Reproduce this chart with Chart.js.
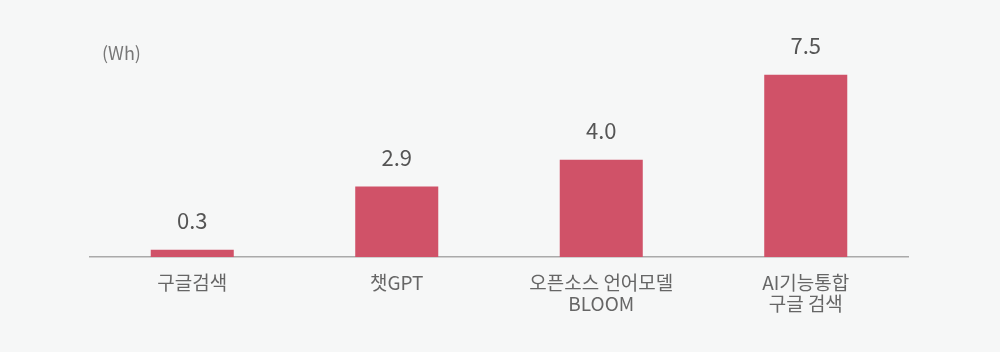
<!DOCTYPE html>
<html>
<head>
<meta charset="utf-8">
<script src="https://cdn.jsdelivr.net/npm/chart.js@4"></script>
<style>
  html, body { margin: 0; padding: 0; background: #f6f7f7; }
  #wrap { width: 1000px; height: 352px; position: relative; }
</style>
</head>
<body>
<div id="wrap"><canvas id="energyChart"></canvas></div>
<script>
const categories = [['구글검색'], ['챗GPT'], ['오픈소스 언어모델', 'BLOOM'], ['AI기능통합', '구글 검색']];
const values = [0.3, 2.9, 4.0, 7.5];
const unitLabel = '(Wh)';

const FONT = "'Noto Sans CJK KR', 'Noto Sans', sans-serif";

// value labels above bars + unit text
const labelPlugin = {
  id: 'labels',
  afterDatasetsDraw(chart) {
    const ctx = chart.ctx;
    const meta = chart.getDatasetMeta(0);
    ctx.save();
    ctx.fillStyle = '#555';
    ctx.font = '22px ' + FONT;
    ctx.textAlign = 'center';
    ctx.textBaseline = 'alphabetic';
    meta.data.forEach((bar, i) => {
      ctx.fillText(values[i].toFixed(1), bar.x, bar.y - 21);
    });
    ctx.fillStyle = '#777';
    ctx.font = '18px ' + FONT;
    ctx.textAlign = 'left';
    ctx.textBaseline = 'middle';
    ctx.fillText(unitLabel, 102, 53);
    ctx.restore();
  }
};

new Chart(document.getElementById('energyChart'), {
  type: 'bar',
  data: {
    labels: categories,
    datasets: [{
      data: values,
      backgroundColor: '#d05268',
      borderWidth: 0,
      barPercentage: 0.406,
      categoryPercentage: 1
    }]
  },
  options: {
    responsive: true,
    maintainAspectRatio: false,
    animation: false,
    layout: { padding: { left: 90, right: 92, top: 14, bottom: 0 } },
    plugins: { legend: { display: false }, tooltip: { enabled: false } },
    scales: {
      x: {
        grid: { display: false },
        border: { display: true, color: '#aaa', width: 1.5 },
        ticks: {
          color: '#666',
          font: { family: FONT, size: 19, lineHeight: 1.1 },
          padding: 7,
          maxRotation: 0
        },
        afterFit(scale) { scale.height = 95; }
      },
      y: {
        display: false,
        min: 0,
        max: 10
      }
    }
  },
  plugins: [labelPlugin]
});
</script>
</body>
</html>
